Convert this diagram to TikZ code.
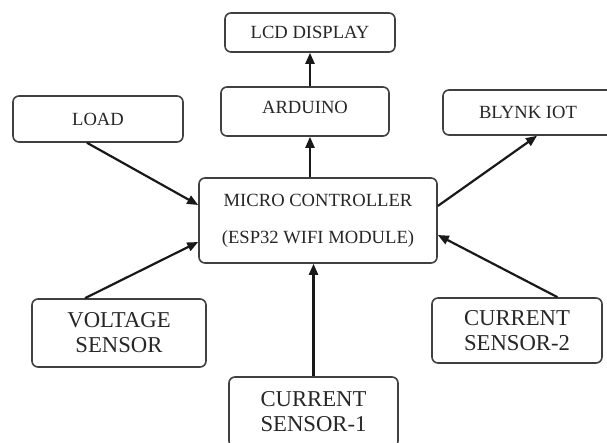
\documentclass[tikz,border=0pt]{standalone}
\usepackage{fontspec}
\setmainfont{Liberation Serif}
\usetikzlibrary{arrows.meta,positioning}

\begin{document}
\begin{tikzpicture}[x=1pt, y=-1pt,
    block/.style={draw=black!75, line width=1.6pt, rounded corners=6pt, inner sep=0pt, minimum width=170pt, minimum height=46pt, text=black!85, font=\fontsize{18.6}{22}\selectfont},
    sensor/.style={block, minimum height=68pt, align=center, font=\fontsize{22.7}{25}\selectfont},
    link/.style={-{Triangle[length=11pt,width=9pt]}, line width=2.2pt, black!90}
  ]
    \useasboundingbox (0,0) rectangle (607,443);
    \clip (0,0) rectangle (607,443);

    \node[block, minimum height=39pt] (lcd) at (310,32.5) {LCD DISPLAY};
    \node[block, minimum width=168pt, minimum height=49pt, text depth=8pt] (ard) at (305,111.5) {ARDUINO};
    \node[block] (load) at (98,119) {LOAD};
    \node[block, minimum height=45pt] (blynk) at (528,112.5) {BLYNK IOT};
    \node[block, minimum width=238pt, minimum height=85pt, align=center] (mcu) at (318,220.5) {MICRO CONTROLLER\\[15pt](ESP32 WIFI MODULE)};
    \node[sensor, minimum width=174pt] (volt) at (119,333) {VOLTAGE\\SENSOR};
    \node[sensor, minimum height=65pt] (cs2) at (517,330.5) {CURRENT\\SENSOR-2};
    \node[sensor, minimum width=169pt, minimum height=70pt] (cs1) at (313.5,412) {CURRENT\\SENSOR-1};

    \draw[link] (ard.north -| lcd.south) -- (lcd.south);
    \draw[link] (mcu.north -| lcd.south) -- (ard.south -| lcd.south);
    \draw[link] ([xshift=-11pt]load.south) -- ([yshift=15.5pt]mcu.west);
    \draw[link] ([xshift=-34pt]volt.north) -- ([yshift=-21.5pt]mcu.west);
    \draw[link] (cs1.north) -- (cs1.north |- mcu.south);
    \draw[link] ([xshift=40.5pt]cs2.north) -- ([yshift=-14.5pt]mcu.east);
    \draw[link] ([yshift=14.5pt]mcu.east) -- ([xshift=9pt]blynk.south);
  \end{tikzpicture}
\end{document}
